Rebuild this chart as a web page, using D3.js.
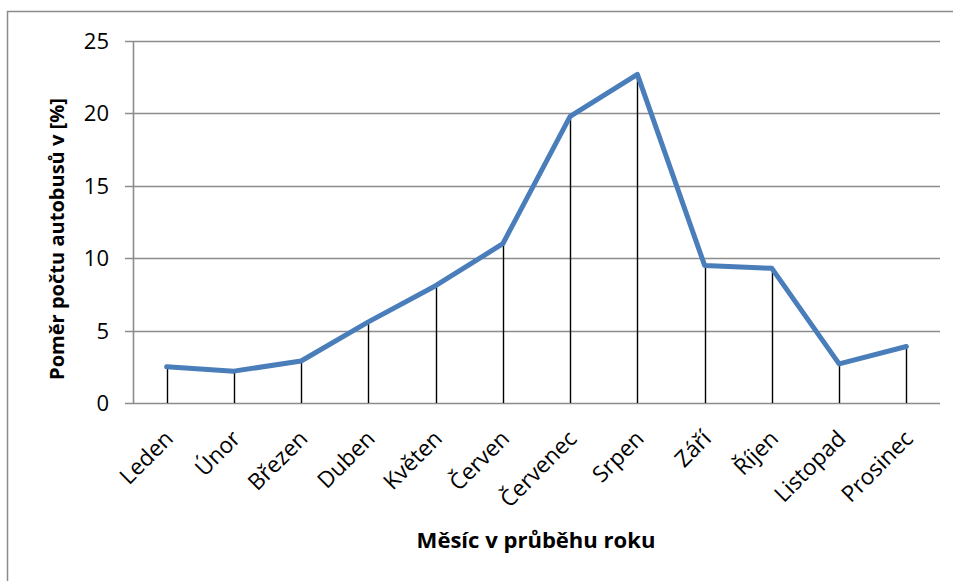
<!DOCTYPE html>
<html><head><meta charset="utf-8">
<script src="https://cdn.jsdelivr.net/npm/d3@7"></script>
<style>body{margin:0;background:#fff}svg{display:block}text{font-family:"Open Sans",sans-serif}</style>
</head><body><svg id="c" width="953" height="581"></svg>
<script>
const months = ["Leden","Únor","Březen","Duben","Květen","Červen","Červenec","Srpen","Září","Říjen","Listopad","Prosinec"];
const values = [2.5, 2.2, 2.9, 5.6, 8.1, 11.0, 19.8, 22.7, 9.5, 9.3, 2.7, 3.9];
const yTicks = [0, 5, 10, 15, 20, 25];
const yTitle = "Poměr počtu autobusů v [%]";
const xTitle = "Měsíc v průběhu roku";

const svg = d3.select("#c");
const L = 133, R = 940, T = 41, B = 403;
svg.append("rect").attr("x",7.5).attr("y",11.5).attr("width",1000).attr("height",1000)
  .attr("fill","none").attr("stroke","#8c8c8c").attr("stroke-width",1.5);

const x = d3.scaleBand().domain(months).range([L, R]);
const y = d3.scaleLinear().domain([0, 25]).range([B, T]);

svg.append("g").selectAll("line").data(yTicks).join("line")
  .attr("x1", L - 8).attr("x2", R).attr("y1", d => Math.round(y(d)) + 0.5).attr("y2", d => Math.round(y(d)) + 0.5)
  .attr("stroke", "#8c8c8c").attr("stroke-width", 1.6);
svg.append("line").attr("x1", L + 0.5).attr("x2", L + 0.5).attr("y1", T).attr("y2", B + 1)
  .attr("stroke", "#8c8c8c").attr("stroke-width", 1.6);

svg.append("g").selectAll("text").data(yTicks).join("text")
  .attr("x", L - 24).attr("y", d => y(d)).attr("dy", "0.36em").attr("text-anchor", "end")
  .attr("font-size", 22).attr("fill", "#000").text(d => d);

const cx = d => x(d) + x.bandwidth() / 2;
svg.append("g").selectAll("line").data(months).join("line")
  .attr("x1", d => Math.round(cx(d)) + 0.5).attr("x2", d => Math.round(cx(d)) + 0.5)
  .attr("y1", (d, i) => y(values[i])).attr("y2", B)
  .attr("stroke", "#000").attr("stroke-width", 1.4);

const line = d3.line().x((d, i) => cx(months[i])).y(d => y(d));
svg.append("path").datum(values).attr("d", line).attr("fill", "none")
  .attr("stroke", "#4a7ebb").attr("stroke-width", 5).attr("stroke-linejoin", "round").attr("stroke-linecap", "round");

svg.append("g").selectAll("text").data(months).join("text")
  .attr("transform", d => `translate(${cx(d) + 8},${B + 37}) rotate(-45)`)
  .attr("text-anchor", "end")
  .attr("font-size", 22.5).attr("fill", "#000").text(d => d);

function fit(sel, target) {
  const len = sel.node().getComputedTextLength();
  const fs = parseFloat(sel.attr("font-size"));
  sel.attr("font-size", fs * target / len);
}
const yt = svg.append("text").attr("transform", `translate(64,239) rotate(-90)`)
  .attr("text-anchor", "middle").attr("font-size", 18).attr("font-weight", "bold").text(yTitle);
fit(yt, 282);
const xt = svg.append("text").attr("x", 536).attr("y", 548).attr("text-anchor", "middle")
  .attr("font-size", 18).attr("font-weight", "bold").text(xTitle);
fit(xt, 239);
</script></body></html>
